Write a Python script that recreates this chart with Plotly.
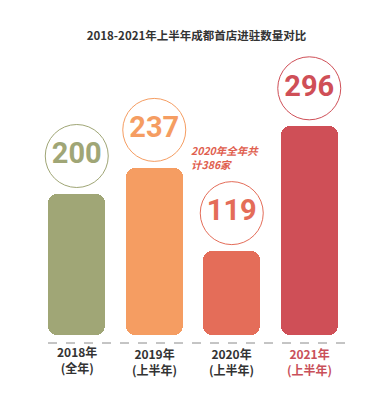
import plotly.graph_objects as go

# ---- data ----
years = ["2018年", "2019年", "2020年", "2021年"]
periods = ["(全年)", "(上半年)", "(上半年)", "(上半年)"]
values = [200, 237, 119, 296]
colors = ["#a0a676", "#f59d62", "#e46d59", "#cf4f57"]
note_text = "2020年全年共<br>计386家"
title_text = "2018-2021年上半年成都首店进驻数量对比"

W, H = 377, 411
ML, MR, MT, MB = 30, 37, 45, 84
Y_MAX = 400
plot_h = H - MT - MB
px_per_unit = plot_h / Y_MAX

xs = list(range(len(values)))
cjk = "Noto Sans CJK SC, Noto Sans, sans-serif"
num_font = "Roboto, Liberation Sans, sans-serif"

fig = go.Figure()

# bars (explicit base -> all four corners rounded)
fig.add_trace(go.Bar(
    x=xs, y=values, base=[0] * len(values),
    width=0.735, marker=dict(color=colors, cornerradius=9, line=dict(width=0)),
    hoverinfo="skip", showlegend=False))

# circles with value labels above bars
offset_units = 38 / px_per_unit
fig.add_trace(go.Scatter(
    x=xs, y=[v + offset_units for v in values],
    mode="markers+text",
    marker=dict(symbol="circle", size=63, color="white",
                line=dict(color=colors, width=1)),
    text=[f"<b>{v}</b>" for v in values], textposition="middle center",
    textfont=dict(family=num_font, size=29, color=colors),
    hoverinfo="skip", showlegend=False, cliponaxis=False))

annotations = []
for i, (yr, pr) in enumerate(zip(years, periods)):
    col = "#c9505a" if i == 3 else "#333333"
    annotations.append(dict(
        x=i, y=0, xref="x", yref="y", xanchor="center", yanchor="top",
        yshift=-6 if i == 0 else -8, showarrow=False,
        text=f"<b>{yr}<br>{pr}</b>",
        font=dict(family=cjk, size=12, color=col), align="center"))

# note above the 2020 circle
annotations.append(dict(
    x=2, y=values[2], xref="x", yref="y", xanchor="left", yanchor="bottom",
    xshift=-43, yshift=77, showarrow=False, align="left",
    text=f"<b><i>{note_text}</i></b>",
    font=dict(family=cjk, size=10.5, color="#e0604f")))

fig.update_layout(
    width=W, height=H,
    margin=dict(l=ML, r=MR, t=MT, b=MB),
    paper_bgcolor="white", plot_bgcolor="white",
    barmode="overlay", bargap=0,
    title=dict(text=f"<b>{title_text}</b>", x=0.5, xanchor="center",
               y=1 - 28 / H, yanchor="middle",
               font=dict(family=cjk, size=11.5, color="#333333")),
    xaxis=dict(range=[-0.5, 3.5], visible=False, fixedrange=True),
    yaxis=dict(range=[0, Y_MAX], visible=False, fixedrange=True),
    annotations=annotations,
    shapes=[dict(type="line", xref="paper", yref="paper",
                 x0=(40 - ML) / (W - ML - MR), x1=(338 - ML) / (W - ML - MR),
                 y0=-8 / plot_h, y1=-8 / plot_h,
                 line=dict(color="#8a8a8a", width=1, dash="dash"))],
)

fig.write_html("out.html")
